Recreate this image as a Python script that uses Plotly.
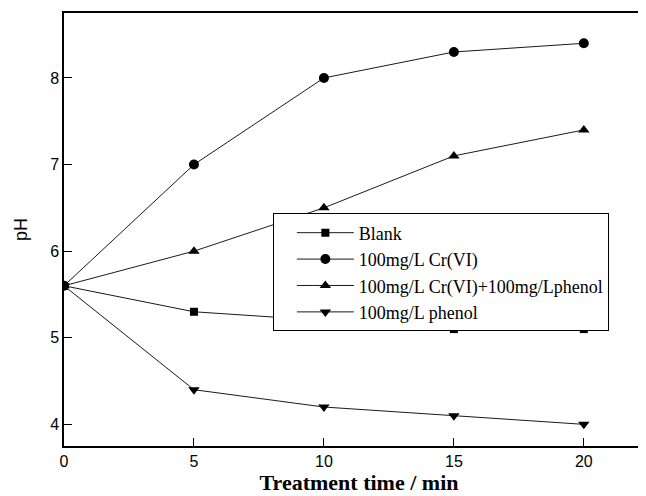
import plotly.graph_objects as go

time_min = [0, 5, 10, 15, 20]
blank = [5.6, 5.3, 5.2, 5.1, 5.1]
cr_vi = [5.6, 7.0, 8.0, 8.3, 8.4]
cr_vi_phenol = [5.6, 6.0, 6.5, 7.1, 7.4]
phenol = [5.6, 4.4, 4.2, 4.1, 4.0]

series = [
    ("Blank", blank, "square", 8),
    ("100mg/L Cr(VI)", cr_vi, "circle", 10),
    ("100mg/L Cr(VI)+100mg/Lphenol", cr_vi_phenol, "triangle-up", 10),
    ("100mg/L phenol", phenol, "triangle-down", 10),
]

fig = go.Figure()
for name, vals, sym, sz in series:
    fig.add_trace(go.Scatter(
        x=time_min, y=vals, name=name, mode="lines+markers",
        line=dict(color="#1a1a1a", width=1),
        marker=dict(symbol=sym, size=sz, color="black"),
    ))

fig.update_layout(
    width=646, height=496,
    margin=dict(l=56, r=0, t=5, b=58),
    plot_bgcolor="white", paper_bgcolor="white",
    showlegend=True,
    legend=dict(
        x=0.354, y=0.537, xanchor="left", yanchor="top",
        bgcolor="white", bordercolor="black", borderwidth=1,
        font=dict(family="Liberation Serif", size=18, color="black"),
        itemwidth=57, indentation=18, tracegroupgap=0,
    ),
    xaxis=dict(
        range=[0, 22.7], tickvals=[0, 5, 10, 15, 20],
        ticks="inside", ticklen=8, tickcolor="black",
        showline=True, linecolor="black", linewidth=1.5, mirror=True,
        showgrid=False, zeroline=False,
        tickfont=dict(family="Liberation Sans", size=16, color="black"),
        title=dict(text="<b>Treatment time / min</b>", standoff=4,
                   font=dict(family="Liberation Serif", size=22, color="black")),
    ),
    yaxis=dict(
        range=[3.75, 8.75], tickvals=[4, 5, 6, 7, 8],
        ticks="inside", ticklen=8, tickcolor="black",
        showline=True, linecolor="black", linewidth=1.5, mirror=False,
        showgrid=False, zeroline=False,
        tickfont=dict(family="Liberation Sans", size=16, color="black"),
        title=dict(text="pH", standoff=18,
                   font=dict(family="Liberation Sans", size=18, color="black")),
    ),
)

fig.write_html("out.html")
